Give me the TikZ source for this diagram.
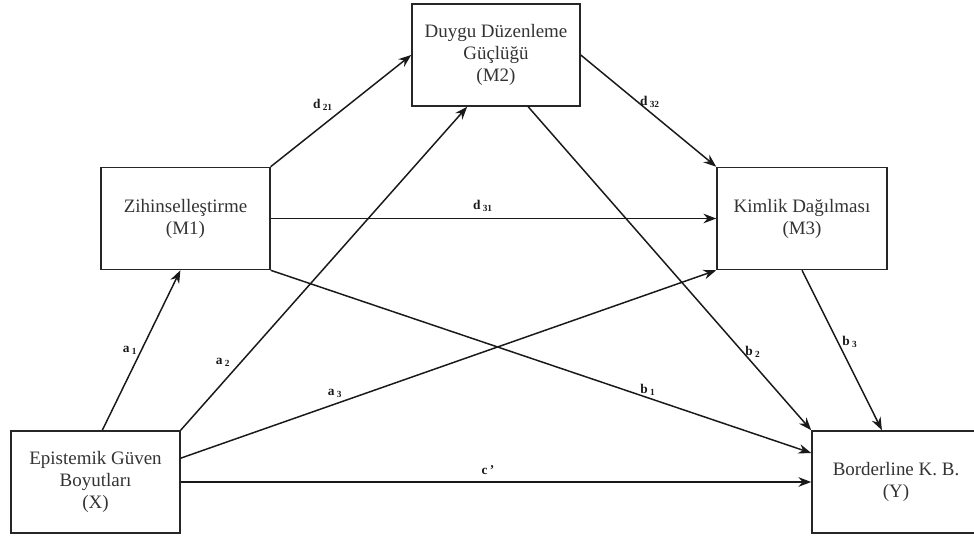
\documentclass[tikz,border=0pt]{standalone}
\usepackage{fontspec}
\setmainfont{Liberation Serif}
\usetikzlibrary{arrows.meta,calc}

\tikzset{
  kutu/.style={draw=black!85, line width=1.1pt, minimum width=4.22cm, minimum height=2.55cm,
    align=center, text=black!80, font=\fontsize{13.5}{15.6}\selectfont},
  yol/.style={line width=1.05pt, draw=black!90, -{Stealth[length=3.2mm,width=2.4mm]}},
  etiket/.style={inner sep=0pt, text=black!90, font=\fontsize{9.5}{10}\selectfont\bfseries}
}

\begin{document}
\begin{tikzpicture}
  \useasboundingbox (0,0) rectangle (24.35,13.525);
  % Kutular
  \node[kutu] (X) at (2.3875,1.475) {Epistemik Güven\\Boyutları\\(X)};
  \node[kutu] (M1) at (4.6375,8.0625) {Zihinselleştirme\\(M1)};
  \node[kutu, minimum width=4.2cm] (M2) at (12.4,12.15) {Duygu Düzenleme\\Güçlüğü\\(M2)};
  \node[kutu, minimum width=4.25cm] (M3) at (20.05,8.0625) {Kimlik Dağılması\\(M3)};
  \node[kutu, minimum width=4.2cm] (Y) at (22.4,1.475) {Borderline K. B.\\(Y)};
  % X'ten cikan yollar
  \draw[yol] ($(X.north west)!0.54!(X.north east)$) -- ($(M1.south west)!0.47!(M1.south east)$);
  \draw[yol] (X.north east) -- ($(M2.south west)!0.33!(M2.south east)$);
  \draw[yol] ($(X.north east)!0.27!(X.south east)$) -- (M3.south west);
  \draw[yol] (X.east) -- (Y.west);
  % Aracilar arasi yollar
  \draw[yol] (M1.north east) -- (M2.west);
  \draw[yol] (M1.east) -- (M3.west);
  \draw[yol] (M2.east) -- (M3.north west);
  % Y'ye giden yollar
  \draw[yol] (M1.south east) -- ($(Y.north west)!0.22!(Y.south west)$);
  \draw[yol] ($(M2.south west)!0.69!(M2.south east)$) -- (Y.north west);
  \draw[yol] (M3.south) -- ($(Y.north west)!0.417!(Y.north east)$);
  % Etiketler
  \node[etiket] (ea1) at (3.25,4.775) {a\,\textsubscript{1}};
  \node[etiket] (ea2) at (5.575,4.475) {a\,\textsubscript{2}};
  \node[etiket] (ea3) at (8.375,3.7) {a\,\textsubscript{3}};
  \node[etiket] (ec) at (12.2,1.775) {c\,'};
  \node[etiket] (eb1) at (16.2,3.775) {b\,\textsubscript{1}};
  \node[etiket] (eb2) at (18.825,4.725) {b\,\textsubscript{2}};
  \node[etiket] (eb3) at (21.25,4.975) {b\,\textsubscript{3}};
  \node[etiket] (ed21) at (8.075,10.9) {d\,\textsubscript{21}};
  \node[etiket] (ed31) at (12.075,8.375) {d\,\textsubscript{31}};
  \node[etiket] (ed32) at (16.25,10.975) {d\,\textsubscript{32}};
\end{tikzpicture}
\end{document}
